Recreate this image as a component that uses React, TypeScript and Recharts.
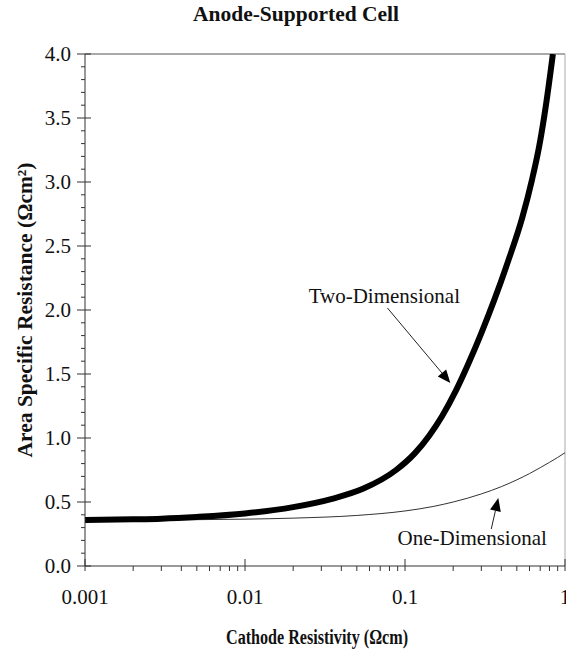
import React from 'react';
import { LineChart, Line, XAxis, YAxis, ReferenceLine, ReferenceDot, Label } from 'recharts';

// Two-Dimensional model (thick curve)
const resistivityTwoD = [0.001, 0.002, 0.003, 0.005, 0.01, 0.02, 0.035, 0.055, 0.088, 0.115, 0.142, 0.17, 0.208, 0.25, 0.3, 0.36, 0.44, 0.54, 0.62, 0.69, 0.76, 0.84];
const asrTwoD = [0.36, 0.365, 0.37, 0.383, 0.41, 0.46, 0.525, 0.605, 0.75, 0.88, 1.02, 1.168, 1.37, 1.586, 1.82, 2.073, 2.378, 2.72, 3.01, 3.28, 3.6, 4.0];

// One-Dimensional model (thin curve)
const resistivityOneD = [0.001, 0.002, 0.005, 0.01, 0.02, 0.05, 0.1, 0.15, 0.2, 0.3, 0.4, 0.5, 0.6, 0.7, 0.8, 0.9, 1];
const asrOneD = [0.36, 0.36, 0.362, 0.366, 0.374, 0.395, 0.43, 0.465, 0.5, 0.563, 0.62, 0.673, 0.722, 0.768, 0.81, 0.848, 0.885];

const xMajorTicks = [0.001, 0.01, 0.1, 1];
const xMajorLabels = ['0.001', '0.01', '0.1', '1'];
const xMinorTicks = [
  0.002, 0.003, 0.004, 0.005, 0.006, 0.007, 0.008, 0.009,
  0.02, 0.03, 0.04, 0.05, 0.06, 0.07, 0.08, 0.09,
  0.2, 0.3, 0.4, 0.5, 0.6, 0.7, 0.8, 0.9,
];
const yTicks = [0, 0.1, 0.2, 0.3, 0.4, 0.5, 0.6, 0.7, 0.8, 0.9, 1, 1.1, 1.2, 1.3, 1.4, 1.5, 1.6, 1.7, 1.8, 1.9, 2, 2.1, 2.2, 2.3, 2.4, 2.5, 2.6, 2.7, 2.8, 2.9, 3, 3.1, 3.2, 3.3, 3.4, 3.5, 3.6, 3.7, 3.8, 3.9, 4];

const titleText = 'Anode-Supported Cell';
const xLabelText = 'Cathode Resistivity (Ωcm)';
const yLabelText = 'Area Specific Resistance (Ωcm²)';

const twoDLabel = { text: 'Two-Dimensional', x: 0.0743, y: 2.11, arrowFrom: [0.0776, 2.016], arrowTo: [0.192, 1.43] };
const oneDLabel = { text: 'One-Dimensional', x: 0.263, y: 0.219, arrowFrom: [0.346, 0.289], arrowTo: [0.383, 0.531] };

const FONT = '"Liberation Serif", "Times New Roman", serif';

const twoDData = resistivityTwoD.map((r, i) => ({ r, v: asrTwoD[i] }));
const oneDData = resistivityOneD.map((r, i) => ({ r, v: asrOneD[i] }));
const xTicksAll = [...xMajorTicks, ...xMinorTicks].sort((a, b) => a - b);

const XTick = (props: any) => {
  const { x, y, payload } = props;
  const v = payload.value;
  const mi = xMajorTicks.findIndex((t) => Math.abs(t - v) < 1e-9);
  const major = mi >= 0;
  return (
    <g>
      <line x1={x} x2={x} y1={major ? y - 7 : y} y2={y + 5} stroke="#333" strokeWidth={1} />
      {major && (
        <text x={x} y={y + 38} textAnchor="middle" style={{ fontFamily: FONT, fontSize: 21 }} fill="#111">
          {xMajorLabels[mi]}
        </text>
      )}
    </g>
  );
};

const YTick = (props: any) => {
  const { x, y, payload } = props;
  const v = payload.value;
  const major = Math.abs(v * 2 - Math.round(v * 2)) < 1e-6;
  return (
    <g>
      <line x1={major ? x - 8 : x - 4} x2={major ? x + 6 : x} y1={y} y2={y} stroke="#333" strokeWidth={1} />
      {major && (
        <text x={x - 14} y={y} dy="0.35em" textAnchor="end" style={{ fontFamily: FONT, fontSize: 21 }} fill="#111">
          {v.toFixed(1)}
        </text>
      )}
    </g>
  );
};

const Arrow = (props: any) => {
  const { x1, y1, x2, y2 } = props;
  const dx = x2 - x1;
  const dy = y2 - y1;
  const len = Math.sqrt(dx * dx + dy * dy) || 1;
  const ux = dx / len;
  const uy = dy / len;
  const hl = 13;
  const hw = 5.5;
  const bx = x2 - ux * hl;
  const by = y2 - uy * hl;
  const p1 = `${x2},${y2}`;
  const p2 = `${bx - uy * hw},${by + ux * hw}`;
  const p3 = `${bx + uy * hw},${by - ux * hw}`;
  return (
    <g>
      <line x1={x1} y1={y1} x2={bx} y2={by} stroke="#222" strokeWidth={1} />
      <polygon points={`${p1} ${p2} ${p3}`} fill="#000" />
    </g>
  );
};

const AnnotationText = (text: string) => (p: any) => {
  const vb = p.viewBox || {};
  const cx = vb.x + (vb.width || 0) / 2;
  const cy = vb.y + (vb.height || 0) / 2;
  return (
    <text x={cx} y={cy} dy="0.35em" textAnchor="middle" style={{ fontFamily: FONT, fontSize: 21 }} fill="#111">
      {text}
    </text>
  );
};

export default function App() {
  return (
    <div style={{ position: 'absolute', left: 0, top: 0, width: 566, height: 654, background: '#fff' }}>
      <div
        style={{
          position: 'absolute', left: 0, top: 0, width: 592, textAlign: 'center',
          fontFamily: FONT, fontWeight: 'bold', fontSize: 21.5, lineHeight: '28px', color: '#111',
        }}
      >
        {titleText}
      </div>
      <LineChart width={566} height={654} margin={{ top: 54, right: 1, bottom: 0, left: 0 }}>
        <XAxis
          dataKey="r"
          type="number"
          scale="log"
          domain={[0.001, 1]}
          ticks={xTicksAll}
          interval={0}
          allowDataOverflow
          height={88}
          tickSize={0}
          tickMargin={0}
          tick={<XTick />}
          axisLine={{ stroke: '#333' }}
          tickLine={false}
        >
          <Label
            content={(p: any) => {
              const vb = p.viewBox;
              return (
                <text x={vb.x + vb.width / 2 - 8} y={vb.y + 78} textAnchor="middle" textLength={182} lengthAdjust="spacingAndGlyphs"
                  style={{ fontFamily: FONT, fontWeight: 'bold', fontSize: 20 }} fill="#111">
                  {xLabelText}
                </text>
              );
            }}
          />
        </XAxis>
        <YAxis
          dataKey="v"
          type="number"
          domain={[0, 4]}
          ticks={yTicks}
          interval={0}
          allowDataOverflow
          width={85}
          tickSize={0}
          tickMargin={0}
          tick={<YTick />}
          axisLine={{ stroke: '#333' }}
          tickLine={false}
        >
          <Label
            content={(p: any) => {
              const vb = p.viewBox;
              const cy = vb.y + vb.height / 2;
              return (
                <text x={0} y={0} transform={`translate(32, ${cy}) rotate(-90)`} textAnchor="middle" style={{ fontFamily: FONT, fontWeight: 'bold', fontSize: 21.5 }} fill="#111">
                  {yLabelText}
                </text>
              );
            }}
          />
        </YAxis>
        <ReferenceLine y={4} stroke="#555" strokeWidth={1} />
        <ReferenceLine x={1} stroke="#aaa" strokeWidth={1} />
        <Line data={oneDData} dataKey="v" type="monotone" stroke="#333" strokeWidth={1} dot={false} isAnimationActive={false} />
        <Line data={twoDData} dataKey="v" type="monotone" stroke="#000" strokeWidth={6} dot={false} isAnimationActive={false} />
        <ReferenceLine
          segment={[{ x: twoDLabel.arrowFrom[0], y: twoDLabel.arrowFrom[1] }, { x: twoDLabel.arrowTo[0], y: twoDLabel.arrowTo[1] }]}
          shape={<Arrow />}
        />
        <ReferenceLine
          segment={[{ x: oneDLabel.arrowFrom[0], y: oneDLabel.arrowFrom[1] }, { x: oneDLabel.arrowTo[0], y: oneDLabel.arrowTo[1] }]}
          shape={<Arrow />}
        />
        <ReferenceDot x={twoDLabel.x} y={twoDLabel.y} r={0} stroke="none" fill="none"
          label={{ content: AnnotationText(twoDLabel.text) }} />
        <ReferenceDot x={oneDLabel.x} y={oneDLabel.y} r={0} stroke="none" fill="none"
          label={{ content: AnnotationText(oneDLabel.text) }} />
      </LineChart>
    </div>
  );
}
